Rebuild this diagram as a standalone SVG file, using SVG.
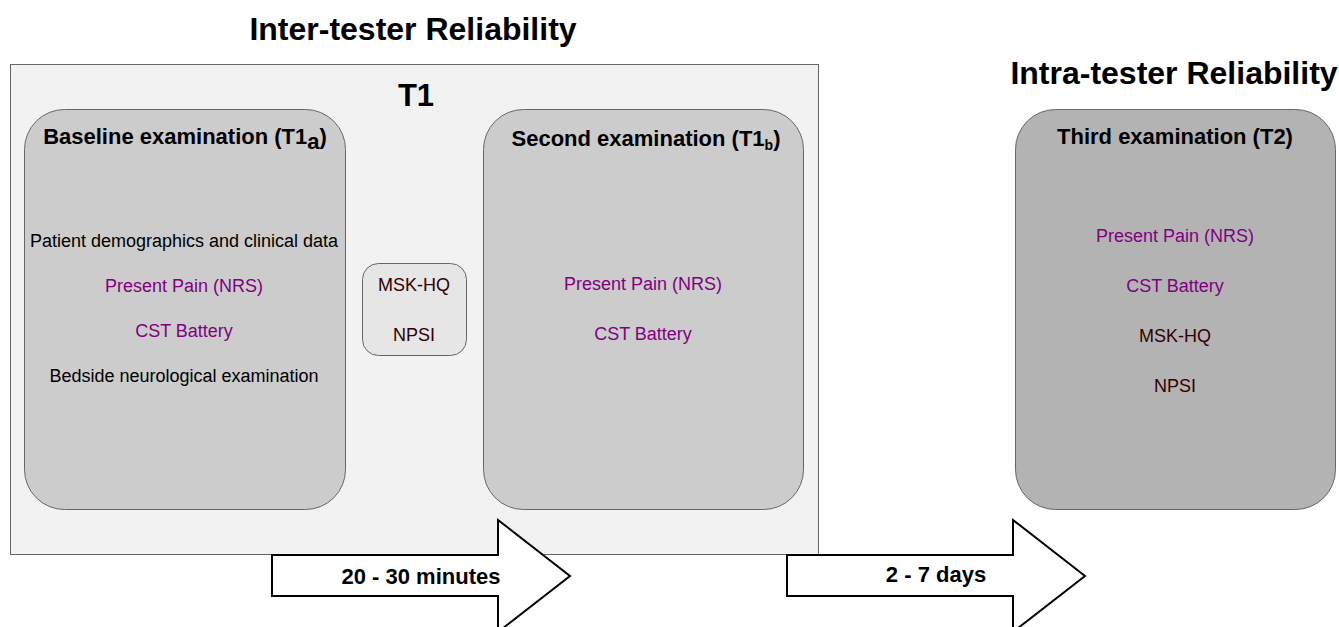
<svg xmlns="http://www.w3.org/2000/svg" width="1339" height="627" viewBox="0 0 1339 627">
<style>
text{font-family:"Liberation Sans",Arial,sans-serif;text-anchor:middle}
.h{font-size:32px;font-weight:bold;fill:#000}
.h1{font-size:31px;font-weight:bold;fill:#000}
.t{font-size:22px;font-weight:bold;fill:#000}
.b{font-size:18px;fill:#000}
.p{font-size:18px;fill:#800080}
.d{font-size:18px;fill:#330000}
.a{font-size:22px;font-weight:bold;fill:#000}
.box{stroke:#666;stroke-width:1}
.arrow{fill:#fff;stroke:#000;stroke-width:2}
</style>
<rect width="1339" height="627" fill="#fff"/>
<text class="h" x="413" y="40">Inter-tester Reliability</text>
<text class="h" x="1174" y="84">Intra-tester Reliability</text>
<g id="T1">
<rect class="box" x="10.5" y="64.5" width="808" height="490" fill="#f2f2f2"/>
<text class="h1" x="416" y="106">T1</text>
</g>
<g id="baseline">
<rect class="box" x="24.5" y="109.5" width="321" height="400" rx="40" fill="#cccccc"/>
<text class="t" x="185" y="144">Baseline examination (T1<tspan dy="5">a</tspan><tspan dy="-5">)</tspan></text>
<text class="b" x="184" y="247">Patient demographics and clinical data</text>
<text class="p" x="184" y="292">Present Pain (NRS)</text>
<text class="p" x="184" y="337">CST Battery</text>
<text class="b" x="184" y="382">Bedside neurological examination</text>
</g>
<g id="questionnaires">
<rect class="box" x="362.5" y="263.5" width="104" height="92" rx="16" fill="#e6e6e6"/>
<text class="d" x="414" y="291">MSK-HQ</text>
<text class="d" x="414" y="341">NPSI</text>
</g>
<g id="second">
<rect class="box" x="483.5" y="109.5" width="320" height="400" rx="40" fill="#cccccc"/>
<text class="t" x="646" y="146">Second examination (T1<tspan font-size="14" dy="4">b</tspan><tspan dy="-4">)</tspan></text>
<text class="p" x="643" y="290">Present Pain (NRS)</text>
<text class="p" x="643" y="340">CST Battery</text>
</g>
<g id="third">
<rect class="box" x="1015.5" y="109.5" width="320" height="400" rx="40" fill="#b3b3b3"/>
<text class="t" x="1175" y="144">Third examination (T2)</text>
<text class="p" x="1175" y="242">Present Pain (NRS)</text>
<text class="p" x="1175" y="292">CST Battery</text>
<text class="d" x="1175" y="342">MSK-HQ</text>
<text class="d" x="1175" y="392">NPSI</text>
</g>
<g id="connectors">
<g id="arrow1">
<polygon class="arrow" points="272,555 498,555 498,520 570,576 498,632 498,596 272,596"/>
<text class="a" x="421" y="584">20 - 30 minutes</text>
</g>
<g id="arrow2">
<polygon class="arrow" points="787,555 1013,555 1013,520 1085,576 1013,632 1013,596 787,596"/>
<text class="a" x="936" y="582">2 - 7 days</text>
</g>
</g>
</svg>
